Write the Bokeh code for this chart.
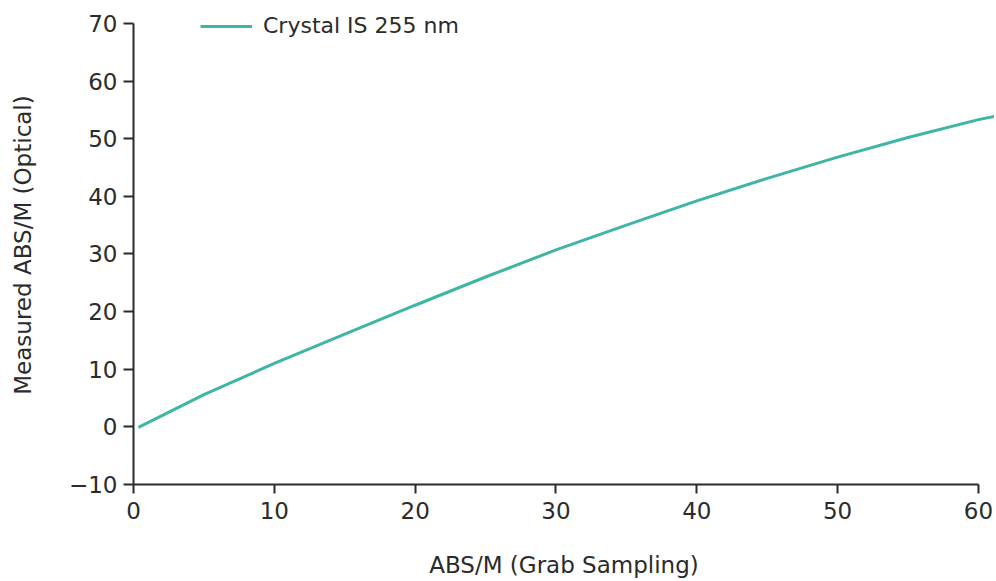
from bokeh.plotting import figure
from bokeh.models import Range1d, Legend, LegendItem, FixedTicker
from bokeh.embed import file_html
from bokeh.resources import INLINE

# data
grab_x = [0.35, 5, 10, 15, 20, 25, 30, 35, 40, 45, 50, 55, 60, 61.2]
optical_y = [-0.1, 5.6, 11.0, 16.1, 21.1, 26.0, 30.7, 35.0, 39.2, 43.1, 46.8, 50.2, 53.3, 53.9]
series_name = "Crystal IS 255 nm"
x_ticks = [0, 10, 20, 30, 40, 50, 60]
y_ticks = [-10, 0, 10, 20, 30, 40, 50, 60, 70]

FONT = "DejaVu Sans"
TXT = "#2b2b2b"

p = figure(width=994, height=580, output_backend="svg", toolbar_location=None,
           x_range=Range1d(0, 61.14), y_range=Range1d(-10, 73.1),
           min_border_left=133, min_border_right=0, min_border_top=5,
           min_border_bottom=92)
p.outline_line_color = None
p.xgrid.grid_line_color = None
p.ygrid.grid_line_color = None
p.background_fill_color = "white"
p.border_fill_color = "white"

r = p.line(grab_x, optical_y, line_color="#3fb5a3", line_width=3)

for ax in (p.xaxis[0], p.yaxis[0]):
    ax.axis_line_color = TXT
    ax.axis_line_width = 2
    ax.major_tick_line_color = TXT
    ax.major_tick_line_width = 2
    ax.major_tick_in = 0
    ax.minor_tick_line_color = None
    ax.major_label_text_font = FONT
    ax.major_label_text_font_size = "23px"
    ax.major_label_text_color = TXT
    ax.axis_label_text_font = FONT
    ax.axis_label_text_font_size = "23px"
    ax.axis_label_text_font_style = "normal"
    ax.axis_label_text_color = TXT

p.xaxis[0].ticker = FixedTicker(ticks=x_ticks)
p.yaxis[0].ticker = FixedTicker(ticks=y_ticks)
p.xaxis[0].bounds = (0, 60)
p.yaxis[0].bounds = (-10, 70)
p.xaxis[0].major_tick_out = 9
p.yaxis[0].major_tick_out = 10
p.xaxis[0].major_label_standoff = 8
p.yaxis[0].major_label_standoff = 6
p.yaxis[0].major_label_overrides = {-10: "\u221210"}
p.xaxis[0].axis_label = "ABS/M (Grab Sampling)"
p.yaxis[0].axis_label = "Measured ABS/M (Optical)"
p.xaxis[0].axis_label_standoff = 30
p.yaxis[0].axis_label_standoff = 30

legend = Legend(items=[LegendItem(label=series_name, renderers=[r])],
                location=(67, 446), padding=0, margin=0, spacing=0,
                glyph_width=52, glyph_height=20, label_standoff=11,
                label_text_font=FONT, label_text_font_size="22px",
                label_text_color=TXT, border_line_color=None,
                background_fill_alpha=0)
p.add_layout(legend)

open("out.html", "w").write(file_html(p, INLINE))
